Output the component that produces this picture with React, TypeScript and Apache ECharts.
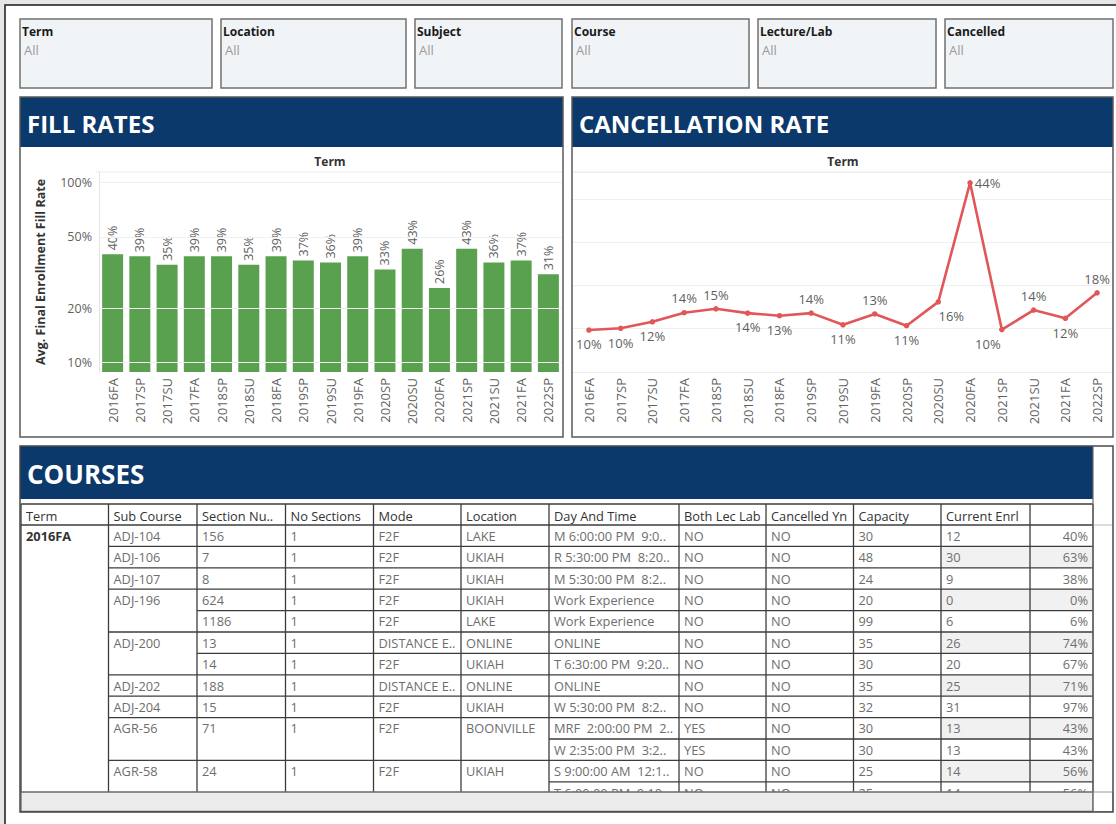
import React, { useEffect, useRef } from 'react';
import * as echarts from 'echarts';

// ---------- data ----------
const terms = ['2016FA', '2017SP', '2017SU', '2017FA', '2018SP', '2018SU', '2018FA', '2019SP', '2019SU', '2019FA', '2020SP', '2020SU', '2020FA', '2021SP', '2021SU', '2021FA', '2022SP'];
const fillRates = [40, 39, 35, 39, 39, 35, 39, 37, 36, 39, 33, 43, 26, 43, 36, 37, 31];
const cancelRates = [9.7, 10.1, 11.6, 13.7, 14.6, 13.6, 13.0, 13.6, 10.9, 13.4, 10.7, 16.2, 43.7, 9.8, 14.3, 12.4, 18.3];
const cancelLabelPos = ['bottom', 'bottom', 'bottom', 'top', 'top', 'bottom', 'bottom', 'top', 'bottom', 'top', 'bottom', 'bottom', 'right', 'bottom', 'top', 'bottom', 'top'];
const fillTicks = [10, 20, 50, 100];

const filterTitles = ['Term', 'Location', 'Subject', 'Course', 'Lecture/Lab', 'Cancelled'];
const filterValue = 'All';

const tableHeaders = ['Term', 'Sub Course', 'Section Nu..', 'No Sections', 'Mode', 'Location', 'Day And Time', 'Both Lec Lab', 'Cancelled Yn', 'Capacity', 'Current Enrl', ''];
const termCol = ['2016FA', '', '', '', '', '', '', '', '', '', '', '', ''];
const subCourse = ['ADJ-104', 'ADJ-106', 'ADJ-107', 'ADJ-196', '', 'ADJ-200', '', 'ADJ-202', 'ADJ-204', 'AGR-56', '', 'AGR-58', ''];
const sectionNum = ['156', '7', '8', '624', '1186', '13', '14', '188', '15', '71', '', '24', ''];
const noSections = ['1', '1', '1', '1', '1', '1', '1', '1', '1', '1', '', '1', ''];
const modes = ['F2F', 'F2F', 'F2F', 'F2F', 'F2F', 'DISTANCE E..', 'F2F', 'DISTANCE E..', 'F2F', 'F2F', '', 'F2F', ''];
const locations = ['LAKE', 'UKIAH', 'UKIAH', 'UKIAH', 'LAKE', 'ONLINE', 'UKIAH', 'ONLINE', 'UKIAH', 'BOONVILLE', '', 'UKIAH', ''];
const dayTimes = ['M 6:00:00 PM  9:0..', 'R 5:30:00 PM  8:20..', 'M 5:30:00 PM  8:2..', 'Work Experience', 'Work Experience', 'ONLINE', 'T 6:30:00 PM  9:20..', 'ONLINE', 'W 5:30:00 PM  8:2..', 'MRF  2:00:00 PM  2..', 'W 2:35:00 PM  3:2..', 'S 9:00:00 AM  12:1..', 'T 6:00:00 PM  9:10..'];
const bothLecLab = ['NO', 'NO', 'NO', 'NO', 'NO', 'NO', 'NO', 'NO', 'NO', 'YES', 'YES', 'NO', 'NO'];
const cancelledYn = ['NO', 'NO', 'NO', 'NO', 'NO', 'NO', 'NO', 'NO', 'NO', 'NO', 'NO', 'NO', 'NO'];
const capacity = ['30', '48', '24', '20', '99', '35', '30', '35', '32', '30', '30', '25', '25'];
const currentEnrl = ['12', '30', '9', '0', '6', '26', '20', '25', '31', '13', '13', '14', '14'];
const enrlPct = ['40%', '63%', '38%', '0%', '6%', '74%', '67%', '71%', '97%', '43%', '43%', '56%', '56%'];

// ---------- layout ----------
const FONT = "'Open Sans', 'Noto Sans', sans-serif";
const NAVY = '#0c396b';
const filterBoxes = [[20, 212], [221, 406], [415, 562], [572, 749], [758, 936], [945, 1113]];
const colEdges = [21, 108.5, 197, 285.5, 373.5, 461, 549, 679, 766, 853.5, 941, 1030, 1093];
const TABLE_TOP = 504;
const HEADER_BOTTOM = 525;
const ROW_H = 21.4;
const TABLE_BOTTOM = 792;
const CELL_FONT = 12.8;

function buildGraphics() {
  const els: any[] = [];
  // page frame
  els.push({ type: 'rect', z: 0, shape: { x: 0, y: 0, width: 1116, height: 824 }, style: { fill: '#e6e6e6' } });
  els.push({ type: 'rect', z: 0, shape: { x: 5, y: 5, width: 1115, height: 825 }, style: { fill: '#ffffff', stroke: '#1a1a1a', lineWidth: 1.5 } });

  // filters
  filterTitles.forEach((t, i) => {
    const [x0, x1] = filterBoxes[i];
    els.push({ type: 'rect', z: 1, shape: { x: x0, y: 19, width: x1 - x0, height: 69 }, style: { fill: '#f1f4f6', stroke: '#707070', lineWidth: 1.5 } });
    els.push({ type: 'text', z: 2, x: x0 + 2, y: 31, style: { text: t, fontFamily: FONT, fontSize: 12, fontWeight: 'bold', fill: '#1a1a1a', verticalAlign: 'middle' } });
    els.push({ type: 'text', z: 2, x: x0 + 4, y: 50, style: { text: filterValue, fontFamily: FONT, fontSize: 13, fill: '#9a9a9a', verticalAlign: 'middle' } });
  });

  // panels
  const panels = [
    { x: 20, w: 543, title: 'FILL RATES', termX: 330 },
    { x: 572, w: 541, title: 'CANCELLATION RATE', termX: 843 },
  ];
  panels.forEach((p) => {
    els.push({ type: 'rect', z: 1, shape: { x: p.x, y: 97, width: p.w, height: 50 }, style: { fill: NAVY } });
    els.push({ type: 'rect', z: 6, shape: { x: p.x, y: 97, width: p.w, height: 340 }, style: { fill: 'none', stroke: '#5a5a5a', lineWidth: 1.5 } });
    els.push({ type: 'text', z: 2, x: p.x + 7, y: 123, style: { text: p.title, fontFamily: FONT, fontSize: 24, fontWeight: 'bold', fill: '#ffffff', verticalAlign: 'middle' } });
    els.push({ type: 'text', z: 2, x: p.termX, y: 161, style: { text: 'Term', fontFamily: FONT, fontSize: 12, fontWeight: 'bold', fill: '#333333', align: 'center', verticalAlign: 'middle' } });
    els.push({ type: 'line', z: 1, shape: { x1: p.x + (p.x === 20 ? 76 : 0), y1: 172, x2: p.x + p.w, y2: 172 }, style: { stroke: '#ececec', lineWidth: 1 } });
  });

  // courses panel
  els.push({ type: 'rect', z: 1, shape: { x: 20, y: 446, width: 1073, height: 53 }, style: { fill: NAVY } });
  els.push({ type: 'text', z: 2, x: 27, y: 474, style: { text: 'COURSES', fontFamily: FONT, fontSize: 26, fontWeight: 'bold', fill: '#ffffff', verticalAlign: 'middle' } });

  // table
  const cols = [termCol, subCourse, sectionNum, noSections, modes, locations, dayTimes, bothLecLab, cancelledYn, capacity, currentEnrl, enrlPct];
  const nRows = subCourse.length;
  const rowTop = (r: number) => HEADER_BOTTOM + ROW_H * r;
  for (let r = 1; r < nRows; r += 2) {
    [10, 11].forEach((c) => {
      els.push({ type: 'rect', z: 1, shape: { x: colEdges[c], y: rowTop(r), width: colEdges[c + 1] - colEdges[c], height: ROW_H }, style: { fill: '#f1f1f1' } });
    });
  }
  tableHeaders.forEach((h, c) => {
    if (!h) return;
    els.push({ type: 'text', z: 3, x: colEdges[c] + 5, y: (TABLE_TOP + HEADER_BOTTOM) / 2 + 1, style: { text: h, fontFamily: FONT, fontSize: CELL_FONT, fill: '#333333', verticalAlign: 'middle' } });
  });
  cols.forEach((col, c) => {
    col.forEach((v, r) => {
      if (!v) return;
      const isPct = c === cols.length - 1;
      els.push({
        type: 'text', z: 3,
        x: isPct ? colEdges[c + 1] - 5 : colEdges[c] + 5,
        y: rowTop(r) + ROW_H / 2,
        style: {
          text: v, fontFamily: FONT, fontSize: CELL_FONT,
          fill: c === 0 ? '#333333' : '#6e6e6e',
          fontWeight: c === 0 ? 'bold' : 'normal',
          align: isPct ? 'right' : 'left', verticalAlign: 'middle',
        },
      });
      if (r > 0 && c > 0) {
        els.push({ type: 'line', z: 4, shape: { x1: colEdges[c], y1: rowTop(r), x2: colEdges[c + 1], y2: rowTop(r) }, style: { stroke: '#3c3c3c', lineWidth: 1.3 } });
      }
    });
  });
  [TABLE_TOP, HEADER_BOTTOM].forEach((y) => {
    els.push({ type: 'line', z: 4, shape: { x1: colEdges[0], y1: y, x2: colEdges[colEdges.length - 1], y2: y }, style: { stroke: '#3c3c3c', lineWidth: 1.3 } });
  });
  colEdges.forEach((x) => {
    els.push({ type: 'line', z: 4, shape: { x1: x, y1: TABLE_TOP, x2: x, y2: TABLE_BOTTOM }, style: { stroke: '#3c3c3c', lineWidth: 1.3 } });
  });
  els.push({ type: 'rect', z: 7, shape: { x: 6, y: 812, width: 1110, height: 12 }, style: { fill: '#ffffff' } });
  els.push({ type: 'rect', z: 7, shape: { x: 21, y: TABLE_BOTTOM, width: 1072, height: 19.5 }, style: { fill: '#ececec', stroke: '#6a6a6a', lineWidth: 1.3 } });
  els.push({ type: 'rect', z: 7, shape: { x: 1093, y: TABLE_BOTTOM, width: 20, height: 19.5 }, style: { fill: '#ffffff', stroke: '#9a9a9a', lineWidth: 1 } });
  els.push({ type: 'line', z: 7, shape: { x1: 1093, y1: HEADER_BOTTOM, x2: 1113, y2: HEADER_BOTTOM }, style: { stroke: '#bbbbbb', lineWidth: 1 } });
  els.push({ type: 'rect', z: 8, shape: { x: 20, y: 446, width: 1093, height: 366 }, style: { fill: 'none', stroke: '#4a4a4a', lineWidth: 1.5 } });
  els.push({ type: 'line', z: 8, shape: { x1: 1093, y1: 446, x2: 1093, y2: 812 }, style: { stroke: '#6a6a6a', lineWidth: 1.2 } });
  return els;
}

export default function App() {
  const ref = useRef<HTMLDivElement>(null);
  useEffect(() => {
    if (!ref.current) return;
    const chart = echarts.init(ref.current, null, { renderer: 'svg' });
    const xLabel = { rotate: 90, color: '#5f5f5f', fontSize: 13, margin: 6, fontFamily: FONT };
    const option: any = {
      animation: false,
      backgroundColor: '#ffffff',
      textStyle: { fontFamily: FONT },
      graphic: { elements: buildGraphics() },
      grid: [
        { left: 99, top: 172, width: 463, height: 200 },
        { left: 573, top: 172, width: 540, height: 200 },
      ],
      xAxis: [
        { type: 'category', gridIndex: 0, data: terms, axisLine: { show: false }, axisTick: { show: false }, axisLabel: xLabel },
        { type: 'category', gridIndex: 1, data: terms, axisLine: { show: false }, axisTick: { show: false }, axisLabel: xLabel },
      ],
      yAxis: [
        {
          type: 'log', logBase: 10, gridIndex: 0, min: 8.88, max: 114.7,
          axisLabel: { show: false }, axisTick: { show: false }, splitLine: { show: false },
          axisLine: { show: true, lineStyle: { color: '#e4e4e4' } },
          name: 'Avg. Final Enrollment Fill Rate', nameLocation: 'middle', nameGap: 52, nameRotate: 90,
          nameTextStyle: { fontSize: 12.5, fontWeight: 'bold', color: '#333333', fontFamily: FONT },
        },
        {
          type: 'value', gridIndex: 1, min: 0, max: 46.2, interval: 10,
          axisLabel: { show: false }, axisTick: { show: false }, axisLine: { show: false },
          splitLine: { show: true, lineStyle: { color: '#efefef' } },
        },
      ],
      series: [
        {
          type: 'bar', xAxisIndex: 0, yAxisIndex: 0, data: fillRates, clip: true,
          barWidth: 21,
          itemStyle: { color: '#59a14f' },
          label: {
            show: true, position: 'top', rotate: 90, align: 'left', verticalAlign: 'middle', distance: 4,
            formatter: (p: any) => p.value + '%', color: '#5f5f5f', fontSize: 12.5, fontFamily: FONT,
          },
          labelLayout: { hideOverlap: false },
          markLine: {
            silent: true, symbol: ['none', 'none'],
            lineStyle: { color: '#f0f0f0', width: 1, type: 'solid' },
            label: { position: 'start', distance: 7, formatter: (p: any) => p.value + '%', color: '#5f5f5f', fontSize: 12.5, fontFamily: FONT },
            data: fillTicks.map((v) => ({ yAxis: v })),
          },
        },
        {
          type: 'line', xAxisIndex: 1, yAxisIndex: 1,
          data: cancelRates.map((v, i) => ({
            value: v,
            label: {
              position: cancelLabelPos[i],
              offset: i === 13 ? [-14, 0] : i === 11 ? [13, 0] : [0, 0],
              distance: cancelLabelPos[i] === 'right' ? 2 : 5,
            },
          })),
          symbol: 'circle', symbolSize: 5.5,
          lineStyle: { color: '#e15759', width: 2.6 },
          itemStyle: { color: '#e15759' },
          label: { show: true, formatter: (p: any) => Math.round(p.value) + '%', color: '#5f5f5f', fontSize: 13, fontFamily: FONT },
        },
      ],
    };
    chart.setOption(option);
    return () => chart.dispose();
  }, []);
  return <div ref={ref} style={{ position: 'absolute', left: 0, top: 0, width: 1116, height: 824 }} />;
}
